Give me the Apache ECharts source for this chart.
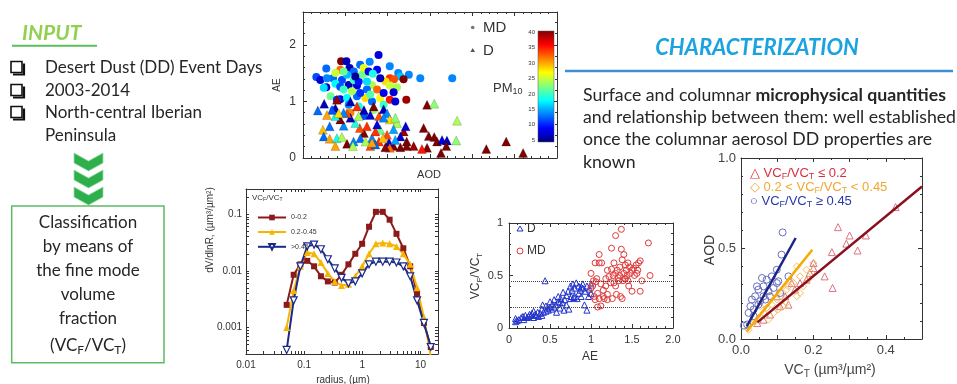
<!DOCTYPE html>
<html><head><meta charset="utf-8">
<script src="https://cdn.jsdelivr.net/npm/echarts@6/dist/echarts.min.js"></script>
<style>html,body{margin:0;padding:0;background:#fff}#c{width:957px;height:384px}</style>
</head><body><div id="c"></div>
<script>
// ---------- DATA ----------
// Panel 1: [AOD, AE, PM10]
const mdPoints = [[0.357,1.82,8],[0.18,1.71,40],[0.205,1.71,7],[0.315,1.70,14],[0.41,1.62,14],[0.27,1.65,13],[0.22,1.59,7],[0.176,1.56,32],[0.11,1.58,13],[0.35,1.56,9],[0.24,1.53,13],[0.295,1.5,24],[0.45,1.5,14],[0.5,1.47,14],[0.46,1.44,16],[0.063,1.43,12],[0.082,1.38,8],[0.142,1.41,13],[0.113,1.41,14],[0.554,1.41,14],[0.705,1.41,14],[0.41,1.41,34],[0.43,1.39,33],[0.475,1.39,40],[0.39,1.35,28],[0.184,1.38,12],[0.365,1.41,7],[0.11,1.25,7],[0.153,1.31,18],[0.176,1.26,12],[0.216,1.29,7],[0.255,1.28,8],[0.326,1.29,24],[0.41,1.28,25],[0.444,1.25,24],[0.428,1.16,8],[0.302,1.21,13],[0.35,1.21,32],[0.176,1.04,8],[0.208,1.06,18],[0.255,1.09,13],[0.295,1.06,28],[0.365,1.06,27],[0.41,1.03,35],[0.488,1.03,39],[0.436,1.0,8],[0.326,1.0,13],[0.24,1.38,20],[0.263,1.35,10],[0.279,1.47,22],[0.287,1.59,26],[0.247,1.44,6],[0.302,1.35,17],[0.208,1.47,16],[0.192,1.21,20],[0.231,1.18,24],[0.27,1.15,11],[0.318,1.12,21],[0.381,1.15,9],[0.13,1.09,22],[0.16,1.03,11],[0.216,0.94,14],[0.263,0.91,19],[0.334,0.85,23],[0.145,0.85,15],[0.224,0.8,31],[0.287,0.74,12],[0.381,0.94,20],[0.098,1.24,17],[0.31,1.53,9],[0.33,1.49,19],[0.192,1.53,22],[0.153,1.5,25]];
const dPoints = [[0.07,0.84,13],[0.1,0.96,7],[0.153,0.88,7],[0.586,0.94,40],[0.62,0.96,23],[0.728,0.66,24],[0.57,0.53,40],[0.594,0.39,40],[0.62,0.37,40],[0.633,0.29,40],[0.657,0.32,8],[0.68,0.31,7],[0.724,0.31,23],[0.677,0.21,40],[0.652,0.09,40],[0.866,0.16,40],[0.96,0.29,40],[1.04,0.09,40],[0.586,0.18,40],[0.562,0.16,35],[0.523,0.21,39],[0.49,0.29,40],[0.476,0.47,39],[0.485,0.56,8],[0.444,0.62,24],[0.428,0.51,15],[0.46,0.19,40],[0.428,0.21,40],[0.406,0.28,8],[0.397,0.41,33],[0.365,0.5,22],[0.359,0.74,33],[0.381,0.86,7],[0.397,0.79,14],[0.359,0.29,34],[0.326,0.35,14],[0.318,0.21,33],[0.288,0.44,40],[0.268,0.53,33],[0.247,0.62,19],[0.224,0.71,7],[0.208,0.79,33],[0.192,0.57,14],[0.176,0.68,40],[0.153,0.74,18],[0.137,0.85,12],[0.126,0.56,13],[0.094,0.5,29],[0.098,0.38,13],[0.126,0.34,30],[0.16,0.35,19],[0.184,0.37,24],[0.208,0.25,40],[0.239,0.29,14],[0.236,0.21,24],[0.271,0.35,13],[0.295,0.29,24],[0.342,0.24,13],[0.378,0.35,29],[0.342,0.47,34],[0.302,0.56,34],[0.41,0.68,28],[0.436,0.71,23],[0.318,0.76,8],[0.288,0.85,7],[0.334,0.91,40],[0.255,0.91,34],[0.224,1.0,7],[0.16,1.03,39],[0.192,0.8,14],[0.113,0.76,30],[0.168,0.79,28],[0.263,0.74,24],[0.381,0.71,14],[0.35,0.59,8],[0.46,0.38,8],[0.436,0.32,15],[0.49,0.21,40],[0.41,0.18,32],[0.389,0.19,40],[0.326,0.27,30],[0.153,0.21,30]];
const pmTicks = [5,10,15,20,25,30,35,40];

// Panel 2: size distributions
const radius = [0.050,0.066,0.086,0.113,0.148,0.194,0.255,0.335,0.439,0.576,0.756,0.992,1.302,1.708,2.241,2.940,3.857,5.061,6.641,8.713,11.432,15.000];
const dvLow  = [0.0025,0.0085,0.013,0.015,0.012,0.008,0.0065,0.0062,0.0085,0.013,0.02,0.03,0.06,0.11,0.11,0.08,0.045,0.025,0.012,0.004,0.0012,0.00045];
const dvMid  = [0.001,0.0045,0.012,0.021,0.02,0.014,0.009,0.0065,0.0055,0.0058,0.008,0.012,0.02,0.03,0.031,0.03,0.027,0.02,0.013,0.005,0.0015,0.0003];
const dvHigh = [0.0004,0.003,0.012,0.027,0.029,0.024,0.016,0.011,0.0075,0.006,0.0065,0.009,0.013,0.0145,0.0145,0.0145,0.014,0.012,0.008,0.003,0.0012,0.00045];
const radiusTicks = [0.01,0.1,1,10];
const dvTicks = [0.001,0.01,0.1];

// Panel 3: [AE, VCF/VCT]
const dFrac = [[0.08,0.06],[0.08,0.09],[0.1,0.07],[0.12,0.08],[0.15,0.1],[0.17,0.11],[0.18,0.08],[0.2,0.12],[0.22,0.1],[0.24,0.11],[0.25,0.13],[0.27,0.12],[0.28,0.14],[0.3,0.1],[0.3,0.16],[0.32,0.13],[0.33,0.12],[0.35,0.15],[0.36,0.11],[0.38,0.14],[0.4,0.12],[0.4,0.18],[0.41,0.22],[0.42,0.15],[0.44,0.45],[0.45,0.16],[0.47,0.19],[0.48,0.17],[0.5,0.2],[0.5,0.25],[0.52,0.18],[0.53,0.23],[0.55,0.2],[0.55,0.27],[0.57,0.22],[0.58,0.15],[0.6,0.25],[0.6,0.3],[0.62,0.19],[0.63,0.28],[0.65,0.24],[0.66,0.34],[0.68,0.27],[0.7,0.22],[0.7,0.31],[0.72,0.35],[0.73,0.18],[0.75,0.4],[0.75,0.28],[0.77,0.36],[0.78,0.42],[0.8,0.3],[0.8,0.38],[0.82,0.43],[0.83,0.28],[0.85,0.33],[0.85,0.4],[0.87,0.36],[0.88,0.3],[0.9,0.38],[0.9,0.42],[0.92,0.22],[0.93,0.35],[0.95,0.4],[0.95,0.17],[0.97,0.3],[0.98,0.37],[1.0,0.33],[1.0,0.42],[0.76,0.3],[0.62,0.24],[0.45,0.21],[0.67,0.17],[0.88,0.39],[0.79,0.29]];
const mdFrac = [[1.0,0.52],[1.0,0.38],[1.02,0.4],[1.03,0.45],[1.04,0.3],[1.05,0.62],[1.05,0.27],[1.07,0.47],[1.08,0.2],[1.08,0.33],[1.1,0.62],[1.1,0.7],[1.1,0.28],[1.12,0.42],[1.12,0.21],[1.13,0.62],[1.15,0.36],[1.16,0.28],[1.18,0.47],[1.2,0.55],[1.2,0.32],[1.22,0.49],[1.24,0.43],[1.25,0.76],[1.25,0.56],[1.26,0.28],[1.27,0.5],[1.28,0.62],[1.3,0.4],[1.3,0.88],[1.3,0.52],[1.31,0.32],[1.32,0.55],[1.33,0.48],[1.34,0.45],[1.35,0.58],[1.36,0.3],[1.37,0.94],[1.37,0.75],[1.38,0.28],[1.38,0.65],[1.39,0.45],[1.4,0.52],[1.4,0.7],[1.41,0.47],[1.42,0.6],[1.43,0.55],[1.44,0.5],[1.45,0.45],[1.45,0.62],[1.46,0.4],[1.47,0.58],[1.48,0.52],[1.5,0.55],[1.5,0.35],[1.52,0.57],[1.53,0.5],[1.55,0.6],[1.56,0.52],[1.57,0.55],[1.58,0.62],[1.6,0.35],[1.6,0.64],[1.62,0.45],[1.7,0.81],[1.72,0.5],[1.35,0.5],[1.28,0.43],[1.15,0.3],[1.42,0.47],[1.2,0.27],[1.06,0.44],[1.18,0.4]];
const fracThresholds = [0.45, 0.2];

// Panel 4: [VCT, AOD]
const vcLow = [[0.045,0.088],[0.062,0.107],[0.08,0.135],[0.108,0.181],[0.131,0.19],[0.122,0.236],[0.149,0.273],[0.163,0.309],[0.181,0.328],[0.2,0.42],[0.2,0.392],[0.19,0.365],[0.231,0.346],[0.253,0.282],[0.251,0.48],[0.268,0.618],[0.291,0.527],[0.3,0.572],[0.322,0.489],[0.345,0.572],[0.427,0.729],[0.14,0.309],[0.099,0.236]];
const vcMid = [[0.021,0.051],[0.035,0.088],[0.048,0.116],[0.062,0.144],[0.071,0.172],[0.085,0.19],[0.099,0.218],[0.112,0.236],[0.126,0.273],[0.145,0.309],[0.163,0.346],[0.181,0.383],[0.195,0.365],[0.154,0.401],[0.131,0.291],[0.117,0.181],[0.09,0.144],[0.08,0.236],[0.053,0.181],[0.154,0.236],[0.136,0.328],[0.172,0.291],[0.186,0.328],[0.103,0.163],[0.076,0.107],[0.126,0.199],[0.163,0.254],[0.2,0.42]];
const vcHigh = [[0.115,0.589],[0.112,0.466],[0.058,0.337],[0.071,0.328],[0.085,0.346],[0.099,0.309],[0.062,0.291],[0.048,0.273],[0.039,0.236],[0.03,0.218],[0.026,0.181],[0.035,0.163],[0.048,0.19],[0.062,0.236],[0.076,0.264],[0.09,0.282],[0.103,0.319],[0.131,0.346],[0.021,0.144],[0.017,0.08],[0.035,0.126],[0.008,0.074],[0.053,0.209],[0.067,0.218],[0.08,0.236],[0.099,0.383],[0.044,0.291],[0.108,0.254]];
const fitLow  = [[0.045,0.092],[0.5,0.843]];
const fitMid  = [[0.016,0.042],[0.197,0.493]];
const fitHigh = [[0.016,0.07],[0.151,0.558]];

// ---------- STYLE / LAYOUT ----------
const BODY = 'Lato, "Open Sans", sans-serif';
const AX = '"Liberation Sans", Arial, sans-serif';
const jet = ['#00007F','#0000FF','#007FFF','#00FFFF','#7FFF7F','#FFFF00','#FF7F00','#FF0000','#7F0000'];
const G1 = {left:303, top:12, width:254, height:146};
const CB = {left:538, top:31, width:16, height:111};
const G2 = {left:246, top:189, width:192, height:165};
const G3 = {left:509, top:223, width:164, height:105};
const G4 = {left:741, top:158, width:181, height:181};

const axLine = {show:true, onZero:false, lineStyle:{color:'#333', width:1}};
function xAx(grid, min, max, o) {
  return Object.assign({type:'value', gridIndex:grid, min, max, axisLine:axLine, splitLine:{show:false},
    axisTick:{inside:true, length:4, lineStyle:{color:'#333'}}, axisLabel:{show:false}}, o||{});
}
function mirror(a, pos) {
  const m = Object.assign({}, a);
  m.position = pos; m.axisLabel = {show:false};
  return m;
}
const log10 = Math.log10;
function logMinor(lo, hi) {
  const v = [];
  for (let d = -5; d <= 2; d++) for (let k = 1; k <= 9; k++) { const t = d + log10(k); if (t >= lo - 1e-9 && t <= hi + 1e-9) v.push(t); }
  return v;
}
function fmtPow(v) { const n = Math.pow(10, Math.round(v)); return n >= 1 ? String(n) : n.toFixed(-Math.round(v)); }
const minorT = (n) => ({show:true, splitNumber:n, length:2, lineStyle:{color:'#333'}});

// x axes
const x1 = xAx(0, 0, 1.2, {interval:0.2, minorTick:minorT(5)});
const xcb = xAx(1, 0, 1, {show:false});
const x2 = xAx(2, -2, 1.3, {axisTick:{inside:true, length:3, customValues:logMinor(-2,1.3), lineStyle:{color:'#333'}},
  axisLabel:{show:true, customValues:radiusTicks.map(log10), formatter:fmtPow, fontSize:10, color:'#333', fontFamily:AX, margin:6}});
const x3 = xAx(3, 0, 2, {interval:0.5, minorTick:minorT(5),
  axisLabel:{show:true, fontSize:11, color:'#333', fontFamily:AX, margin:6, formatter:v => v === 2 ? '2.0' : String(v)}});
const x4 = xAx(4, 0, 0.5, {interval:0.1, minorTick:minorT(2),
  axisLabel:{show:true, fontSize:13, color:'#444', fontFamily:AX, margin:5, formatter:v => (Math.round(v*10) % 2 === 0) ? v.toFixed(1) : ''}});
// y axes
const y1 = xAx(0, 0, 2.58, {interval:1, minorTick:minorT(5),
  axisLabel:{show:true, showMaxLabel:false, fontSize:12, color:'#333', fontFamily:AX, margin:7}});
const ycb = xAx(1, 4.45, 40.3, {axisLine:{show:false}, axisTick:{show:false},
  axisLabel:{show:true, customValues:pmTicks, fontSize:6, color:'#333', fontFamily:AX, margin:3}});
const y2 = xAx(2, -3.47, -0.555, {axisTick:{inside:true, length:3, customValues:logMinor(-3.47,-0.555), lineStyle:{color:'#333'}},
  axisLabel:{show:true, customValues:dvTicks.map(log10), formatter:fmtPow, fontSize:10, color:'#333', fontFamily:AX, margin:4}});
const y3 = xAx(3, 0, 1, {interval:0.5, minorTick:minorT(5),
  axisLabel:{show:true, fontSize:11, color:'#333', fontFamily:AX, margin:6}});
const y4 = xAx(4, 0, 1, {interval:0.5, minorTick:minorT(5),
  axisLabel:{show:true, fontSize:13, color:'#444', fontFamily:AX, margin:5, formatter:v => v.toFixed(1)}});

const xAxes = [x1, mirror(x1,'top'), xcb, x2, mirror(x2,'top'), x3, mirror(x3,'top'), x4, mirror(x4,'top')];
const yAxes = [y1, mirror(y1,'right'), ycb, y2, mirror(y2,'right'), y3, mirror(y3,'right'), y4, mirror(y4,'right')];
[[0,0],[1,0],[2,1],[3,2],[4,2],[5,3],[6,3],[7,4],[8,4]].forEach(([i,gi])=>{ xAxes[i].gridIndex=gi; yAxes[i].gridIndex=gi; });
[0,3,5,7].forEach(i=>{ xAxes[i].position='bottom'; yAxes[i].position='left'; });
yAxes[2].position='left';

// ---------- SERIES ----------
const series = [];
series.push({type:'scatter', name:'MD1', xAxisIndex:0, yAxisIndex:0, data:mdPoints, symbol:'circle', symbolSize:8,
  itemStyle:{opacity:1}});
series.push({type:'scatter', name:'D1', xAxisIndex:0, yAxisIndex:0, data:dPoints, symbol:'triangle', symbolSize:9,
  itemStyle:{opacity:1, borderColor:'rgba(0,0,0,0.35)', borderWidth:0.5}});
const sdCols = ['#8B1A1A','#F7B500','#1B2A8A'];
const sdNames = ['0-0.2','0.2-0.45','>0.45'];
[dvLow, dvMid, dvHigh].forEach((arr, i) => {
  series.push({type:'line', name:sdNames[i], xAxisIndex:3, yAxisIndex:3,
    data: radius.map((r, j) => [log10(r), log10(arr[j])]),
    symbol: i === 0 ? 'rect' : 'triangle', symbolRotate: i === 2 ? 180 : 0, symbolSize: i === 0 ? 6 : 7,
    lineStyle:{color:sdCols[i], width:2},
    itemStyle: i === 2 ? {color:'#fff', borderColor:sdCols[i], borderWidth:1.2} : {color:sdCols[i]}});
});
series.push({type:'scatter', name:'D', xAxisIndex:5, yAxisIndex:5, data:dFrac, symbol:'triangle', symbolSize:6,
  itemStyle:{opacity:1, color:'transparent', borderColor:'#2233CC', borderWidth:1},
  markLine:{silent:true, symbol:'none', label:{show:false}, lineStyle:{color:'#444', type:'dotted', width:1},
    data: fracThresholds.map(v => ({yAxis:v}))}});
series.push({type:'scatter', name:'MD', xAxisIndex:5, yAxisIndex:5, data:mdFrac, symbol:'circle', symbolSize:6,
  itemStyle:{opacity:1, color:'transparent', borderColor:'#E03A3A', borderWidth:1}});
series.push({type:'scatter', name:'low', xAxisIndex:7, yAxisIndex:7, data:vcLow, symbol:'triangle', symbolSize:7,
  itemStyle:{opacity:1, color:'transparent', borderColor:'#DA7480', borderWidth:1}});
series.push({type:'scatter', name:'mid', xAxisIndex:7, yAxisIndex:7, data:vcMid, symbol:'diamond', symbolSize:7,
  itemStyle:{opacity:1, color:'transparent', borderColor:'#F4C062', borderWidth:1}});
series.push({type:'scatter', name:'high', xAxisIndex:7, yAxisIndex:7, data:vcHigh, symbol:'circle', symbolSize:7,
  itemStyle:{opacity:1, color:'transparent', borderColor:'#6A70BE', borderWidth:1}});
[[fitLow,'#8B0F1F'],[fitMid,'#F7A900'],[fitHigh,'#1A2585']].forEach(([d,c]) => {
  series.push({type:'line', xAxisIndex:7, yAxisIndex:7, data:d, symbol:'none', lineStyle:{color:c, width:2.5}});
});

// ---------- GRAPHIC (text, decorations) ----------
function T(x, y, text, o) {
  o = o || {};
  return {type:'text', x, y, rotation:o.rot || 0, z:10, style:{text, fill:o.color || '#262626', fontSize:o.size || 16,
    fontFamily:o.family || BODY, fontWeight:o.weight || 'normal', fontStyle:o.style || 'normal',
    align:o.align || 'left', verticalAlign:'middle', rich:o.rich}};
}
function subRich(size, color, family) {
  return {n:{fontSize:size, fill:color, fontFamily:family},
          s:{fontSize:Math.round(size*0.68), fill:color, fontFamily:family, padding:[Math.round(size*0.55),0,0,0]},
          b:{fontSize:size, fill:color, fontFamily:family, fontWeight:'bold'}};
}
const g = [];
// Left column
g.push(T(22, 33, 'INPUT', {size:21, weight:'bold', style:'italic', color:'#92D050'}));
g.push({type:'line', shape:{x1:12, y1:45.7, x2:97, y2:45.7}, style:{stroke:'#5BBF5B', lineWidth:2}});
const bullets = ['Desert Dust (DD) Event Days', '2003-2014', 'North-central Iberian'];
const bulletY = [68, 91, 113];
bullets.forEach((t, i) => {
  const y = bulletY[i];
  g.push({type:'rect', shape:{x:11, y:y-6.5, width:11, height:11}, style:{fill:'none', stroke:'#111', lineWidth:1.6}});
  g.push({type:'polyline', shape:{points:[[24,y-4.5],[24,y+6.5],[13,y+6.5]]}, style:{fill:'none', stroke:'#111', lineWidth:2.2}});
  g.push(T(45, y, t, {size:17}));
});
g.push(T(45, 136, 'Peninsula', {size:17}));
for (let i = 0; i < 3; i++) {
  const y0 = 153 + i * 17;
  g.push({type:'polygon', shape:{points:[[74,y0],[88.5,y0+8],[103,y0],[103,y0+10],[88.5,y0+18],[74,y0+10]]},
    style:{fill:'#2DB04B', stroke:'#9CD9A8', lineWidth:0.8}});
}
g.push({type:'rect', shape:{x:11.7, y:206, width:152.3, height:156.7}, style:{fill:'none', stroke:'#5DBB63', lineWidth:1.5}});
const boxLines = ['Classification', 'by means of', 'the fine mode', 'volume', 'fraction'];
const boxY = [223, 247, 271, 295, 319];
boxLines.forEach((t, i) => g.push(T(88, boxY[i], t, {size:17, align:'center'})));
g.push(T(88, 346, '{n|(VC}{s|F}{n|/VC}{s|T}{n|)}', {size:17, align:'center', rich:subRich(17, '#262626', BODY)}));

// Right header
g.push(T(757, 47.7, 'CHARACTERIZATION', {size:22, weight:'bold', style:'italic', color:'#1BA3DF', align:'center'}));
g.push({type:'line', shape:{x1:565, y1:71, x2:953, y2:71}, style:{stroke:'#3D8FD1', lineWidth:2.5}});
g.push(T(583, 95, '{n|Surface and columnar }{b|microphysical quantities}', {size:17.7, rich:subRich(17.7, '#262626', BODY)}));
g.push(T(583, 117, 'and relationship between them: well established', {size:17.7}));
g.push(T(583, 139.5, 'once the columnar aerosol DD properties are', {size:17.7}));
g.push(T(583, 162, 'known', {size:17.7}));

// Panel 1 annotations
g.push(T(277, 85, 'AE', {size:10, family:AX, color:'#333', align:'center', rot:Math.PI/2}));
g.push(T(429, 175, 'AOD', {size:11, family:AX, color:'#333', align:'center'}));
g.push({type:'circle', shape:{cx:472.7, cy:27.5, r:1.8}, style:{fill:'#777'}});
g.push(T(483, 28, 'MD', {size:15, family:AX, color:'#333'}));
g.push({type:'polygon', shape:{points:[[472.7,48],[475,52],[470.4,52]]}, style:{fill:'#555'}});
g.push(T(483, 51, 'D', {size:15, family:AX, color:'#333'}));
g.push(T(493, 88, '{n|PM}{s|10}', {size:13, family:AX, rich:subRich(13, '#333', AX)}));
g.push({type:'rect', shape:{x:CB.left, y:CB.top, width:CB.width, height:CB.height}, z:5,
  style:{fill:new echarts.graphic.LinearGradient(0, 1, 0, 0, jet.map((c, i) => ({offset:i/(jet.length-1), color:c}))), stroke:'#555', lineWidth:0.5}});

// Panel 2 annotations
g.push(T(210, 230, 'dV/dlnR, (\u00B5m\u00B3/\u00B5m\u00B2)', {size:10, family:AX, color:'#333', align:'center', rot:Math.PI/2}));
g.push(T(343, 380, 'radius, (\u00B5m)', {size:10, family:AX, color:'#333', align:'center'}));
g.push(T(252, 198, '{n|VC}{s|F}{n|/VC}{s|T}', {size:8, family:AX, rich:subRich(8, '#333', AX)}));

// Panel 3 annotations
g.push(T(476, 276, '{n|VC}{s|F}{n|/VC}{s|T}', {size:12, family:AX, align:'center', rot:Math.PI/2, rich:subRich(12, '#333', AX)}));
g.push(T(590, 357, 'AE', {size:12, family:AX, color:'#333', align:'center'}));
g.push({type:'polygon', shape:{points:[[520,226],[523,231],[517,231]]}, style:{fill:'none', stroke:'#2233CC', lineWidth:1}});
g.push(T(527, 229, 'D', {size:12, family:AX, color:'#333'}));
g.push({type:'circle', shape:{cx:520, cy:251, r:3}, style:{fill:'none', stroke:'#E03A3A', lineWidth:1}});
g.push(T(527, 251, 'MD', {size:12, family:AX, color:'#333'}));

// Panel 4 annotations
g.push(T(710, 250, 'AOD', {size:14, family:AX, color:'#333', align:'center', rot:Math.PI/2}));
g.push(T(830, 370, '{n|VC}{s|T}{n| (\u00B5m\u00B3/\u00B5m\u00B2)}', {size:14, family:AX, align:'center', rich:subRich(14, '#444', AX)}));
g.push(T(750, 173, '{n|\u25B3 VC}{s|F}{n|/VC}{s|T}{n| \u2264 0.2}', {size:13, family:AX, rich:subRich(13, '#D6303E', AX)}));
g.push(T(750, 187, '{n|\u25C7 0.2 < VC}{s|F}{n|/VC}{s|T}{n| < 0.45}', {size:13, family:AX, rich:subRich(13, '#F0A830', AX)}));
g.push(T(750, 201.5, '{n|\u25CB VC}{s|F}{n|/VC}{s|T}{n| \u2265 0.45}', {size:13, family:AX, rich:subRich(13, '#2A38AA', AX)}));

const chart = echarts.init(document.getElementById('c'), null, {renderer:'canvas'});
chart.setOption({
  animation:false,
  backgroundColor:'#fff',
  grid:[G1, CB, G2, G3, G4].map(gr => Object.assign({containLabel:false}, gr)),
  xAxis:xAxes,
  yAxis:yAxes,
  visualMap:{type:'continuous', show:false, min:5, max:40, dimension:2, seriesIndex:[0,1], inRange:{color:jet}},
  legend:{data:sdNames, orient:'vertical', left:252, top:209, itemWidth:28, itemHeight:7, itemGap:7.5,
    selectedMode:false, textStyle:{fontSize:7, color:'#333', fontFamily:AX}},
  series,
  graphic:g
});
</script></body></html>
